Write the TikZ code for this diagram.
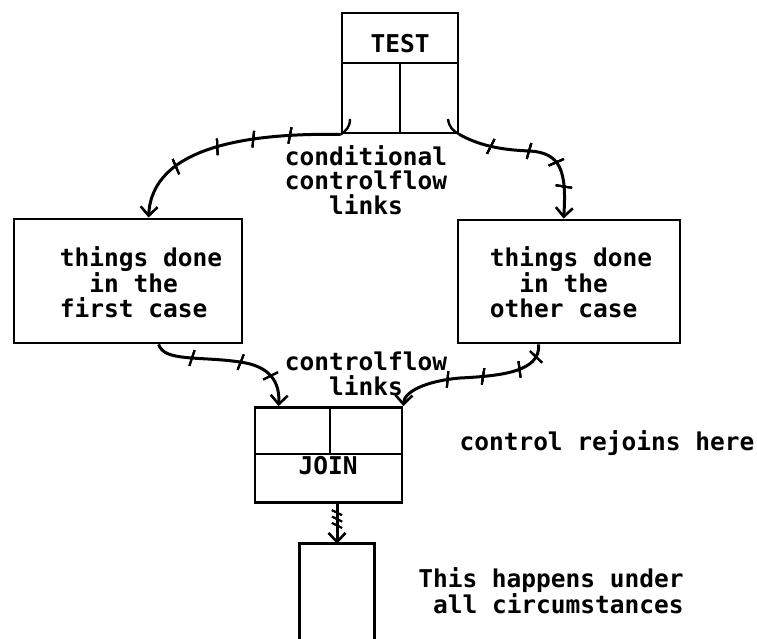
\documentclass[tikz,border=0pt]{standalone}
\usepackage{fontspec}
\setmonofont{DejaVu Sans Mono}
\usetikzlibrary{arrows.meta,decorations.markings}

\tikzset{
  box/.style={draw, line width=2.8pt, inner sep=0pt},
  rule/.style={line width=2.8pt},
  lbl/.style={font=\ttfamily\bfseries\fontsize{24.5}{24.5}\selectfont, inner sep=0pt, align=left},
  flow/.style={line width=3pt, -{Straight Barb[length=9pt,width=17pt,line width=2.6pt]}},
  tick/.style={decoration={markings, mark=at position #1 with {\draw[-, line width=2pt] (-2pt,-8pt) -- (2pt,8pt);}}, postaction={decorate}},
  smalltick/.style={decoration={markings, mark=at position #1 with {\draw[-, line width=1.8pt] (-2.5pt,-5pt) -- (2.5pt,5pt);}}, postaction={decorate}},
  hook/.style={line width=2.4pt}
}

\begin{document}
\begin{tikzpicture}[x=1pt, y=-1pt]
\useasboundingbox (0,0) rectangle (757,639);

% the test box, split into a header and two exits
\node[box, minimum width=116pt, minimum height=120pt] (test) at (400,73) {};
\draw[rule] (test.west |- 0,63) -- (test.east |- 0,63);
\draw[rule] (400,63) -- (test.south -| 400,0);
\node[lbl] (testlbl) at (400,44) {TEST};

% the two cases
\node[box, minimum width=228pt, minimum height=124pt] (first) at (128,281) {};
\node[lbl] (firstlbl) at (141,282) {things done\\\phantom{xx}in the\\first case};
\node[box, minimum width=222pt, minimum height=123pt] (other) at (569,281.5) {};
\node[lbl] (otherlbl) at (571,282) {things done\\\phantom{xx}in the\\other case};

% the join box
\node[box, minimum width=147pt, minimum height=95pt] (join) at (328.5,455) {};
\draw[rule] (join.west |- 0,454) -- (join.east |- 0,454);
\draw[rule] (330,0 |- join.north) -- (330,454);
\node[lbl] (joinlbl) at (328,466) {JOIN};

% the box after the join, open at the bottom
\node[minimum width=74pt, minimum height=101pt, inner sep=0pt] (after) at (337,594.5) {};
\draw[rule] (after.south west) |- (after.north east) -- (after.south east);

% notes
\node[lbl] (condlbl) at (366,180) {conditional\\controlflow\\\phantom{xxx}links};
\node[lbl] (flowlbl) at (366,374) {controlflow\\\phantom{xxx}links};
\node[lbl] (rejoin) at (607,443) {control rejoins here};
\node[lbl] (always) at (551,591) {This happens under\\\phantom{x}all circumstances};

% named ends of the connectors
\coordinate (c1) at (test.south west);
\coordinate (c2) at (test.south east);
\coordinate (f1) at ([xshift=136pt]first.north west);
\coordinate (o1) at ([xshift=107pt]other.north west);
\coordinate (f2) at ([xshift=146pt]first.south west);
\coordinate (o2) at ([xshift=82pt]other.south west);
\coordinate (j1) at ([xshift=25pt]join.north west);
\coordinate (j2) at (join.north east);
\coordinate (j3) at ([xshift=8.5pt]join.south);
\coordinate (a1) at (after.north);

% conditional controlflow links
\draw[flow, tick=0.22, tick=0.38, tick=0.54, tick=0.74]
  (c1) .. controls (250,133) and (152,146) .. (f1);
\draw[flow, tick=0.21, tick=0.45, tick=0.64, tick=0.80]
  (c2) .. controls (478,145) and (500,150) .. (530,151)
       .. controls (560,153) and (567,170) .. (o1);
\draw[hook] (350,119) .. controls (350,127) and (346,131) .. (c1);
\draw[hook] (448,119) .. controls (449,127) and (453,131) .. (c2);

% controlflow links into the join
\draw[flow, tick=0.25, tick=0.57, tick=0.79]
  (f2) .. controls (164,362) and (200,356) .. (240,362)
       .. controls (270,366) and (280,382) .. (j1);
\draw[flow, tick=0.08, tick=0.21, tick=0.44, tick=0.66]
  (o2) .. controls (541,372) and (500,376) .. (460,378)
       .. controls (425,381) and (404,392) .. (j2);

% straight on after the join
\draw[flow, smalltick=0.22, smalltick=0.38, smalltick=0.54] (j3) -- (a1);
\end{tikzpicture}
\end{document}
